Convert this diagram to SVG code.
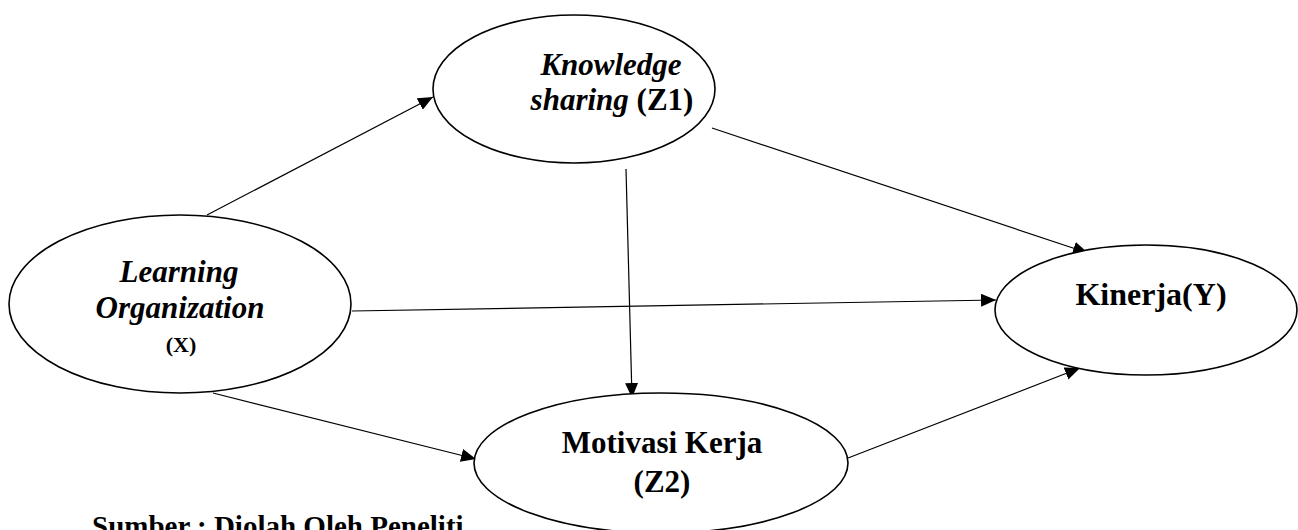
<svg xmlns="http://www.w3.org/2000/svg" width="1298" height="530" viewBox="0 0 1298 530">
<style>
.node{fill:#fff;stroke:#000;stroke-width:1.6}
.t{font-family:"Liberation Serif","Times New Roman",serif;font-weight:bold;fill:#000;text-anchor:middle}
.i{font-style:italic}
.edge{stroke:#000;stroke-width:1.2;fill:none;marker-end:url(#arr)}
</style>
<defs>
<marker id="arr" markerUnits="userSpaceOnUse" markerWidth="16" markerHeight="14" refX="15" refY="6.5" orient="auto">
<path d="M0,0 L15,6.5 L0,13 Z" fill="#000"/>
</marker>
</defs>
<rect width="1298" height="530" fill="#fff"/>
<text class="t" x="92" y="536" font-size="29" text-anchor="start" style="text-anchor:start">Sumber : Diolah Oleh Peneliti</text>
<g id="connectors">
<line class="edge" x1="207" y1="215" x2="433" y2="97"/>
<line class="edge" x1="712" y1="128" x2="1088" y2="253"/>
<line class="edge" x1="626" y1="169" x2="632" y2="398"/>
<line class="edge" x1="352" y1="311" x2="996" y2="300"/>
<line class="edge" x1="213" y1="393" x2="476" y2="459"/>
<line class="edge" x1="848" y1="458" x2="1080" y2="368"/>
</g>
<g id="knowledge">
<ellipse class="node" cx="574" cy="89" rx="141" ry="74"/>
<text class="t i" x="611" y="75" font-size="31">Knowledge</text>
<text class="t" x="612" y="110" font-size="31"><tspan class="i">sharing</tspan> (Z1)</text>
</g>
<g id="learning">
<ellipse class="node" cx="180" cy="304" rx="171" ry="89"/>
<text class="t i" x="179" y="282" font-size="31">Learning</text>
<text class="t i" x="180" y="318" font-size="31">Organization</text>
<text class="t" x="181" y="352" font-size="22">(X)</text>
</g>
<g id="kinerja">
<ellipse class="node" cx="1146" cy="310" rx="151" ry="65"/>
<text class="t" x="1151" y="305" font-size="32">Kinerja(Y)</text>
</g>
<g id="motivasi">
<ellipse class="node" cx="661" cy="463" rx="187" ry="70"/>
<text class="t" x="662" y="453" font-size="31">Motivasi Kerja</text>
<text class="t" x="662" y="492" font-size="31">(Z2)</text>
</g>
</svg>
